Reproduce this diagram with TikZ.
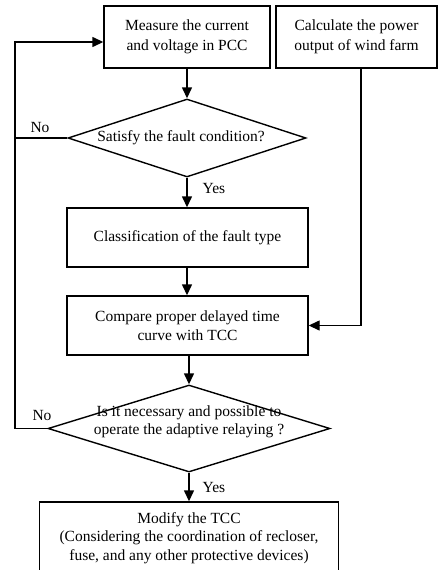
\documentclass[tikz,border=0pt]{standalone}
\usepackage{fontspec}
\setmainfont{Liberation Serif}
\usetikzlibrary{arrows.meta,shapes.geometric}
\begin{document}
\begin{tikzpicture}[x=1pt,y=1pt,
  line width=1.4pt,
  font=\fontsize{15.5}{18.5}\selectfont,
  stepbox/.style={draw,rectangle,inner sep=0pt,align=center},
  decis/.style={draw,diamond,inner sep=0pt},
  lbl/.style={inner sep=0pt,align=center},
  arr/.style={-{Triangle[length=11pt,width=10pt]}},
  plain/.style={line cap=rect}]
\useasboundingbox (0,0) rectangle (438,-570);
\node[stepbox,minimum width=166pt,minimum height=62pt,font=\fontsize{15.5}{20.5}\selectfont] (b1) at (187,-37) {Measure the current\\and voltage in PCC};
\node[stepbox,minimum width=161pt,minimum height=62pt,font=\fontsize{15.5}{20.5}\selectfont] (b2) at (356.5,-37) {Calculate the power\\output of wind farm};
\node[decis,minimum width=238pt,minimum height=78pt] (d1) at (187,-138) {};
\node[lbl] (d1t) at (181,-138) {Satisfy the fault condition?};
\node[stepbox,minimum width=241pt,minimum height=59pt] (b3) at (187.5,-237.5) {Classification of the fault type};
\node[stepbox,minimum width=241pt,minimum height=59pt] (b4) at (187.5,-325.5) {Compare proper delayed time\\curve with TCC};
\node[decis,minimum width=282pt,minimum height=87pt] (d2) at (189,-428.5) {};
\node[lbl] (d2t) at (189,-422) {Is it necessary and possible to\\operate the adaptive relaying ?};
\node[stepbox,minimum width=299pt,minimum height=72pt] (b5) at (189,-538) {Modify the TCC\\(Considering the coordination of recloser,\\fuse, and any other protective devices)};
\node[lbl] (no1) at (40,-127) {No};
\node[lbl] (yes1) at (214,-188) {Yes};
\node[lbl] (no2) at (42,-415) {No};
\node[lbl] (yes2) at (214,-487) {Yes};
\coordinate (loopc) at (15,-428.5);
\coordinate (rc) at (361,-325.5);
\draw[arr] (b1.south -| d1.north) -- (d1.north);
\draw[arr] (d1.south) -- (d1.south |- b3.north);
\draw[arr] (b3.south -| d1.south) -- (d1.south |- b4.north);
\draw[arr] (b4.south -| d2.north) -- (d2.north);
\draw[arr] (d2.south) -- (d2.south |- b5.north);
\draw[arr] (d2.west) -- (loopc) |- ([yshift=-5pt]b1.west);
\draw (d1.west) -- (d1.west -| loopc);
\draw[arr] (b2.south -| rc) -- (rc) -- (b4.east);
\end{tikzpicture}
\end{document}
